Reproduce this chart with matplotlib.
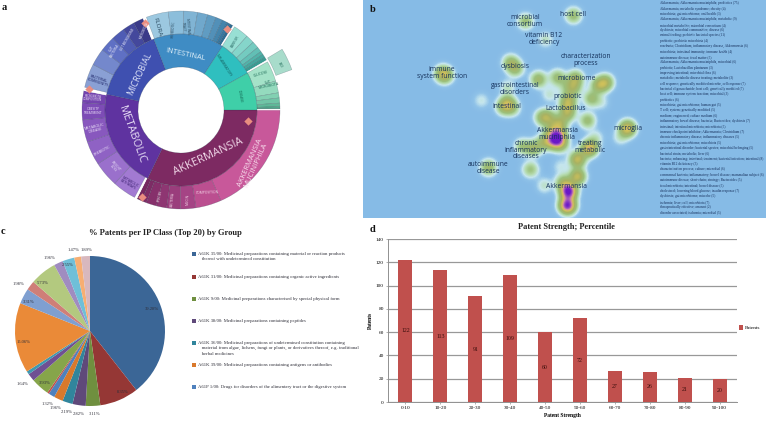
import numpy as np
import matplotlib
matplotlib.use("Agg")
from matplotlib import pyplot as plt
from matplotlib.colors import LinearSegmentedColormap

W, H = 767, 423
SERIF = "Liberation Serif"
SANS = "Open Sans"

# %%
# panel a: sunburst, spans in degrees clockwise from east
inner_vals = [116, 76, 57, 54, 28, 29]
inner_cols = ["#7d2a62", "#5f33a0", "#3f50b0", "#3f8cc4", "#2fbfbf", "#3fcfa8"]

outer_vals = [66, 15, 9, 8, 6, 6, 3, 3, 1.5,
              14, 15, 14, 13, 10, 7, 2,
              14, 10, 9, 8, 7, 6, 2,
              13, 9, 8, 6, 5, 4, 3, 2, 2, 1,
              9, 5, 4, 3, 2, 2, 2, 1,
              12, 7, 3, 3, 2, 1, 0.5, 0.5]
outer_cols = ["#c8589a", "#bb4f90", "#a54485", "#9a3d7c", "#8e3672", "#86306b", "#7d2c65", "#75285f", "white",
              "#a27ad2", "#9a70cc", "#8f62c4", "#8858be", "#7d4cb6", "#7444ae", "white",
              "#8aa0d4", "#7488cc", "#5f70c4", "#4f5cb4", "#44489c", "#3a3a88", "white",
              "#9cc8e0", "#8cbedb", "#80b4d4", "#70a8cc", "#609cc2", "#5290b8", "#4484ac", "#3a78a0", "#306c92", "white",
              "#98dfd4", "#85d5ca", "#74cbc0", "#62bfb5", "#52b3a9", "#46a79e", "#3a9b92", "white",
              "#a4e2c8", "#94dabe", "#82d0b2", "#70c4a6", "#5fb898", "#4fa88a", "#3f987c", "white"]

third_vals = [329, 11, 20]
third_cols = ["none", "#a8dccb", "none"]

# (text, x, y, rotation, size, colour)
sun_labels = [
    ("AKKERMANSIA", 208, 157, 25, 8, "#f0d8e8"),
    ("METABOLIC", 132, 135, -70, 8, "#e6dcf4"),
    ("MICROBIAL", 140, 74, 65, 6.3, "#dfe4f8"),
    ("INTESTINAL", 185, 55, -12, 5.3, "#e4f2fa"),
    ("AKKERMANSIA\nMUCINIPHILA", 253, 164, 66, 5.5, "#f8e0ee"),
    ("FLORA", 157, 27, -75, 4.6, "#27475c"),
    ("BACTERIAL\nCOMMUNITY", 98, 81, -18, 2.6, "#20286a"),
    ("METABOLIC\nDISEASE", 95, 129, 13, 2.7, "#f0e8fa"),
    ("PREBIOTIC", 102, 151, 28, 2.7, "#f0e8fa"),
    ("WEIGHT\nLOSS", 115, 167, -48, 2.4, "#f0e8fa"),
    ("METABOLIC\nPATHWAYS", 129, 183, -30, 2.4, "#3a2070"),
    ("OBESITY\nTREATMENT", 93, 111, 0, 2.3, "#f0e8fa"),
    ("MICROBIOTA\nCOMPOSITION", 93, 98, -3, 2.1, "#f0e8fa"),
    ("GUT\nBACTERIA", 113, 50, 60, 2.4, "#f0f0fc"),
    ("GUT MICROBIOME", 127, 40, 60, 2.2, "#f0f0fc"),
    ("MICROBIOTA", 144, 30, 68, 2.2, "#f0f0fc"),
    ("PROBIOTIC", 173, 29, 85, 2.3, "#27475c"),
    ("INTESTINAL\nTRACT", 185, 27, -85, 2.3, "#27475c"),
    ("BARRIER", 235, 42, 60, 2.4, "#1f5f5a"),
    ("INFLAMMATORY", 224, 65, -57, 2.4, "#14585a"),
    ("DISEASE", 240, 96, -80, 2.4, "#11604d"),
    ("GLUCOSE", 261, 74, 16, 2.4, "#11604d"),
    ("GUT\nMICROBIOTA", 268, 84, 12, 2.4, "#11604d"),
    ("IBD", 280, 65, -60, 2.6, "#11604d"),
    ("COMPOSITION", 207, 193, 2, 2.3, "#f8e0ee"),
    ("MUCIN", 188, 199, 88, 2.3, "#f8e0ee"),
    ("BACTERIA", 172, 199, 84, 2.3, "#f8e0ee"),
    ("SPECIES", 160, 196, 78, 2.3, "#f8e0ee"),
]
marker_x = [89, 145, 227, 248, 142]
marker_y = [89, 23, 29, 121, 197]

# %%
# panel b: term map, density peaks in picture pixels
map_x = [525, 573, 545, 442, 445, 510, 515, 538, 557, 507, 507, 503, 512, 481, 488, 530,
         575, 573, 565, 605, 598, 549, 568, 567, 567, 591, 601, 548, 542, 587,
         559, 558, 553, 560, 551, 543, 533, 595, 590, 587, 577, 577, 560, 544,
         563, 568, 567, 627, 620, 522]
map_y = [21, 15, 39, 73, 75, 62, 68, 79, 77, 87, 103, 107, 108, 100, 167, 169,
         78, 87, 85, 82, 85, 94, 98, 105, 113, 98, 102, 117, 117, 120,
         123, 135, 140, 143, 130, 142, 148, 137, 147, 149, 159, 176, 166, 185,
         182, 191, 205, 128, 137, 146]
map_w = [.26, .28, .13, .34, .28, .28, .3, .33, .28, .13, .4, .22, .18, .09, .32, .24,
         .36, .3, .12, .4, .33, .11, .3, .3, .34, .28, .08, .28, .28, .28,
         .38, .55, .62, .38, .28, .28, .3, .11, .4, .26, .5, .5, .08, .12,
         .32, .98, .95, .6, .11, .24]

map_terms = ["microbial\nconsortium", "host cell", "vitamin B12\ndeficiency",
             "characterization\nprocess", "immune\nsystem function", "dysbiosis",
             "gastrointestinal\ndisorders", "intestinal", "microbiome", "probiotic",
             "Lactobacillus", "Akkermansia\nmuciniphila", "chronic\ninflammatory\ndiseases",
             "autoimmune\ndisease", "Akkermansia", "treating\nmetabolic", "microglia"]
term_x = [525, 573, 544, 586, 442, 515, 515, 507, 577, 568, 566, 557, 526, 488, 566, 590, 628]
term_y = [21, 15, 39, 60, 73, 66, 89, 106, 78, 97, 109, 134, 150, 168, 186, 147, 128]

side_list = [
    "Akkermansia; Akkermansia muciniphila; probiotics (75)",
    "Akkermansia; metabolic syndrome; obesity (4)",
    "microbiota; gut microbiome; oral health (3)",
    "Akkermansia; Akkermansia muciniphila; metabolic (9)",
    "microbial metabolite; microbial consortium (4)",
    "dysbiosis; microbial communities; disease (6)",
    "animal feeding; prebiotic bacterial species (11)",
    "probiotic; probiotic microbiota (4)",
    "roseburia; Clostridium, inflammatory disease, Akkermansia (6)",
    "microbiota; intestinal immunity; immune health (4)",
    "autoimmune disease; fecal matter (5)",
    "Akkermansia; Akkermansia muciniphila, microbial (6)",
    "prebiotic; Lactobacillus plantarum (3)",
    "improving intestinal; microbial flora (6)",
    "metabolic; metabolic disease treating; metabolite (3)",
    "cell response; genetically modified microbe, cell response (7)",
    "bacterial oligosaccharide; host cell; genetically modified (7)",
    "host cell; immune system function; microbial (3)",
    "probiotics (6)",
    "microbiota; gut microbiome; human gut (5)",
    "T cell; system; genetically modified (5)",
    "medium; engineered; culture medium (6)",
    "inflammatory bowel disease; bacteria; Bacteroides; dysbiosis (7)",
    "intestinal; intestinal microbiota; microbiota (5)",
    "immune checkpoint inhibitor; Akkermansia; Clostridium (7)",
    "chronic inflammatory disease; inflammatory diseases (5)",
    "microbiota; gut microbiome; microbiota (5)",
    "gastrointestinal disorder; bacterial species; microbial belonging (5)",
    "bacterial strain; metabolic; liver (6)",
    "bacteria; enhancing; intestinal; treatment; bacterial infection; intestinal (8)",
    "vitamin B12 deficiency (3)",
    "characterization process; culture; microbial (6)",
    "commensal bacteria; inflammatory; bowel disease; mammalian subject (6)",
    "autoimmune disease; short-chain; strategy; Bacteroides (5)",
    "fecal microbiota; intestinal; bowel disease (5)",
    "cholesterol; lowering blood glucose; insulin response (7)",
    "dysbiosis; gut microbiome; microbe (5)",
    "ischemia; liver; cell; microbiota (7)",
    "therapeutically effective; amount (2)",
    "disorder associated; ischemia; microbial (5)",
]

# %%
# panel c: pie
pie_vals = [39.28, 8.35, 3.11, 2.82, 2.19, 1.96, 1.32, 0.4, 3.93, 1.64, 0.7,
            15.06, 3.31, 1.98, 5.73, 1.96, 2.55, 1.47, 1.89]
pie_cols = ["#3b6696", "#953735", "#6f8f3f", "#5f497a", "#31859c", "#d9792c", "#4f81bd", "#c0504d",
            "#86a54a", "#6f4f93", "#3f98b0", "#ea8a38", "#7f9fd0", "#cf7f78", "#b3c97f",
            "#a08cc0", "#6fbfd8", "#f7ae72", "#d8b8be"]
pie_text = ["39.28%", "8.35%", "3.11%", "2.82%", "2.19%", "1.96%", "1.32%", "3.93%", "1.64%",
            "15.06%", "3.31%", "1.98%", "5.73%", "1.96%", "2.55%", "1.47%", "1.89%"]
pie_text_x = [152, 123, 95, 79, 67, 56, 48, 45, 23, 24, 29, 19, 43, 50, 68, 74, 87]
pie_text_y = [309, 392, 414, 414, 412, 408, 404, 383, 384, 342, 302, 284, 283, 258, 265, 250, 250]

ipc_text = [
    "A61K 35/00: Medicinal preparations containing material or reaction products\n   thereof with undetermined constitution",
    "A61K 31/00: Medicinal preparations containing organic active ingredients",
    "A61K 9/00: Medicinal preparations characterised by special physical form",
    "A61K 38/00: Medicinal preparations containing peptides",
    "A61K 36/00: Medicinal preparations of undetermined constitution containing\n   material from algae, lichens, fungi or plants, or derivatives thereof, e.g. traditional\n   herbal medicines",
    "A61K 39/00: Medicinal preparations containing antigens or antibodies",
    "A61P 1/00: Drugs for disorders of the alimentary tract or the digestive system",
]
ipc_cols = ["#3b6696", "#953735", "#6f8f3f", "#5f497a", "#31859c", "#d9792c", "#4f81bd"]
ipc_y = [254, 277, 299, 321, 343, 365, 387]

# %%
# panel d: bars
strength_bins = ["0-10", "10-20", "20-30", "30-40", "40-50", "50-60", "60-70", "70-80", "80-90", "90-100"]
patents = [122, 113, 91, 109, 60, 72, 27, 26, 21, 20]

# %%


def px_axes(x0, y0, x1, y1):
    return fig.add_axes([x0 / W, 1 - y1 / H, (x1 - x0) / W, (y1 - y0) / H])


def ring(ax, vals, cols, radius, width, lw=0.35):
    wedges, _ = ax.pie(
        vals,
        colors=cols,
        radius=radius,
        startangle=0,
        counterclock=False,
        wedgeprops=dict(width=width, edgecolor="#22334455", linewidth=lw),
    )
    return wedges


fig = plt.figure(figsize=(W / 100, H / 100), dpi=100)

# sunburst, axes units are pixels
ax_a = px_axes(181 - 125, 110 - 125, 181 + 125, 110 + 125)
for w, c in zip(ring(ax_a, outer_vals, outer_cols, 99, 23), outer_cols):
    if c == "white":
        w.set_edgecolor("white")
ring(ax_a, inner_vals, inner_cols, 76, 33, lw=0.4)
for w, c in zip(ring(ax_a, third_vals, third_cols, 118, 17), third_cols):
    w.set_visible(c != "none")
ax_a.set_xlim(-125, 125)
ax_a.set_ylim(-125, 125)

# pie
ax_c = px_axes(90 - 80, 331 - 80, 90 + 80, 331 + 80)
ax_c.pie(pie_vals, colors=pie_cols, radius=75, startangle=90, counterclock=False)
ax_c.set_xlim(-80, 80)
ax_c.set_ylim(-80, 80)

# bars
ax_d = px_axes(388, 239, 737, 402)
ax_d.bar(strength_bins, patents, width=0.4, color="#c0504d", label="Patents", zorder=3)
ax_d.set_xlim(-0.5, 9.5)
ax_d.set_ylim(0, 140)
ax_d.set_yticks(range(0, 141, 20))
ax_d.grid(axis="y", color="#989898", linewidth=0.9, zorder=0)
for s in ["top", "right"]:
    ax_d.spines[s].set_visible(False)
for s in ["left", "bottom"]:
    ax_d.spines[s].set_color("#909090")
    ax_d.spines[s].set_linewidth(0.7)
ax_d.tick_params(length=1.5, width=0.5, color="#909090", labelsize=3.8, pad=1.5)
for t in ax_d.get_xticklabels() + ax_d.get_yticklabels():
    t.set_family(SERIF)
ax_d.set_xlabel("Patent Strength", fontsize=4, fontweight="bold", family=SERIF, labelpad=2)
ax_d.set_ylabel("Patents", fontsize=4, fontweight="bold", family=SERIF, labelpad=2)
for i, v in enumerate(patents):
    ax_d.text(i, v / 2, str(v), ha="center", va="center", fontsize=4.2, family=SERIF, color="#3a0e0c", zorder=4)
ax_d.legend(
    loc="center left",
    bbox_to_anchor=(1.006, 0.455),
    frameon=False,
    prop=dict(family=SERIF, size=3.9),
    handlelength=0.8,
    handleheight=0.8,
    handletextpad=0.35,
    borderpad=0,
    borderaxespad=0,
)

# everything placed in picture pixels goes on this one
ov = fig.add_axes([0, 0, 1, 1], zorder=5)
ov.patch.set_alpha(0)
ov.axis("off")

# term map density
xx, yy = np.meshgrid(np.arange(363, 766), np.arange(0, 218))
dens = np.zeros(xx.shape)
for x, y, wt in zip(map_x, map_y, map_w):
    dens += wt * np.exp(-((xx - x) ** 2 + (yy - y) ** 2) / (2 * 5.4 ** 2))
map_cmap = LinearSegmentedColormap.from_list(
    "termmap",
    [(0, "#86bbe6"), (0.03, "#8fc2e8"), (0.08, "#c6e6ee"), (0.15, "#b6dcb0"), (0.25, "#9cc07c"),
     (0.42, "#a9b262"), (0.58, "#d2c25a"), (0.72, "#d48fa0"), (0.85, "#9a4ec0"), (1, "#6a18c8")],
)
ov.imshow(dens, extent=(363, 766, 218, 0), cmap=map_cmap, vmin=0, vmax=1, aspect="auto", interpolation="bilinear")

for term, x, y in zip(map_terms, term_x, term_y):
    ov.text(x, y, term, ha="center", va="center", fontsize=4.9, family=SANS, color="#14305a", linespacing=0.95)
for i, line in enumerate(side_list):
    ov.text(660, 3.3 + i * 5.36, line, ha="left", va="center", fontsize=2.5, family=SERIF, color="#17305c")

# sunburst text and markers
for txt, x, y, rot, size, col in sun_labels:
    ov.text(x, y, txt, ha="center", va="center", rotation=rot, fontsize=size, family=SANS, color=col,
            linespacing=0.95, rotation_mode="anchor")
ov.scatter(marker_x, marker_y, s=18, marker="D", color="#e98d80", linewidths=0)

# pie text and legend
for txt, x, y in zip(pie_text, pie_text_x, pie_text_y):
    ov.text(x, y, txt, ha="center", va="center", fontsize=3.3, family=SERIF, color="#30303a")
ov.scatter([194] * len(ipc_y), ipc_y, s=6, marker="s", color=ipc_cols, linewidths=0)
for txt, y in zip(ipc_text, ipc_y):
    ov.text(198, y - 2.2, txt, ha="left", va="top", fontsize=3.45, family=SERIF, color="#30303a", linespacing=1.45)

ov.text(165, 233, "% Patents per IP Class (Top 20) by Group", ha="center", va="center",
        fontsize=6.1, fontweight="bold", family=SERIF, color="#222222")
ov.text(566, 227, "Patent Strength; Percentile", ha="center", va="center",
        fontsize=6, fontweight="bold", family=SERIF, color="#222222")

for letter, x, y in zip(["a", "b", "c", "d"], [2, 370, 1, 370], [8, 10, 231, 230]):
    ov.text(x, y, letter, ha="left", va="center", fontsize=7.5, fontweight="bold", family=SERIF, color="#111111")

ov.set_xlim(0, W)
ov.set_ylim(H, 0)

fig.savefig("out.png", dpi=100)
